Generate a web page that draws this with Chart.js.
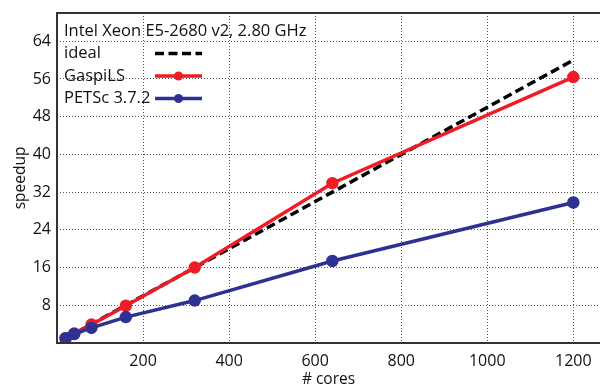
<!DOCTYPE html>
<html><head><meta charset="utf-8">
<script src="https://cdn.jsdelivr.net/npm/chart.js@4/dist/chart.umd.min.js"></script>
<style>html,body{margin:0;padding:0;background:#fff}#c{display:block}</style>
</head><body>
<canvas id="c" width="600" height="387"></canvas>
<script>
const cores = [20, 40, 80, 160, 320, 640, 1200];
const ideal = [1, 2, 4, 8, 16, 32, 60];
const gaspiLS = [1, 2, 3.9, 7.9, 16, 33.9, 56.4];
const petsc = [1, 1.9, 3.2, 5.5, 9.0, 17.4, 29.8];
const xTicks = [200, 400, 600, 800, 1000, 1200];
const yTicks = [8, 16, 24, 32, 40, 48, 56, 64];
const legendTitle = 'Intel Xeon E5-2680 v2, 2.80 GHz';
const FONT = 'Open Sans';

const pts = (ys) => cores.map((x, i) => ({x, y: ys[i]}));

const frame = {
  id: 'frame',
  afterDatasetsDraw(chart) {
    const {ctx, chartArea: a} = chart;
    ctx.save();
    ctx.strokeStyle = '#333';
    ctx.lineWidth = 2;
    ctx.beginPath();
    ctx.moveTo(a.right + 2, a.top); ctx.lineTo(a.left, a.top);
    ctx.lineTo(a.left, a.bottom); ctx.lineTo(a.right + 2, a.bottom);
    ctx.stroke();
    // legend
    const x0 = a.left + 7, lx0 = a.left + 98, lx1 = a.left + 145;
    ctx.fillStyle = '#111';
    ctx.font = '16.5px "' + FONT + '"';
    ctx.textBaseline = 'middle';
    ctx.textAlign = 'left';
    ctx.fillText(legendTitle, x0, a.top + 18);
    const rows = chart.data.datasets;
    rows.forEach((ds, i) => {
      const y = a.top + 40.5 + i * 22.5;
      ctx.fillStyle = '#111';
      ctx.fillText(ds.label, x0, y);
      ctx.strokeStyle = ds.borderColor;
      ctx.lineWidth = ds.borderWidth;
      ctx.setLineDash(ds.borderDash || []);
      ctx.beginPath(); ctx.moveTo(lx0, y); ctx.lineTo(lx1, y); ctx.stroke();
      ctx.setLineDash([]);
      if (ds.pointRadius > 0) {
        ctx.fillStyle = ds.borderColor;
        ctx.beginPath(); ctx.arc((lx0 + lx1) / 2, y, ds.pointRadius, 0, Math.PI * 2); ctx.fill();
      }
    });
    ctx.restore();
  }
};

const gridOpts = {color: '#555', lineWidth: 1, drawTicks: false, borderDash: [1, 2], tickBorderDash: [1, 2]};

new Chart(document.getElementById('c'), {
  type: 'line',
  data: {
    datasets: [
      {label: 'ideal', data: pts(ideal), borderColor: '#000', borderWidth: 3.5, borderDash: [9, 4.5], pointRadius: 0, order: 3},
      {label: 'GaspiLS', data: pts(gaspiLS), borderColor: '#ee1c25', backgroundColor: '#ee1c25', borderWidth: 3.5, pointRadius: 4.5, order: 2},
      {label: 'PETSc 3.7.2', data: pts(petsc), borderColor: '#2e3192', backgroundColor: '#2e3192', borderWidth: 3.5, pointRadius: 4.5, order: 1}
    ]
  },
  options: {
    responsive: false,
    animation: false,
    layout: {autoPadding: false, padding: {top: 13, right: 0, left: 0, bottom: 0}},
    plugins: {legend: {display: false}, tooltip: {enabled: false}},
    elements: {line: {tension: 0}, point: {borderWidth: 0}},
    scales: {
      x: {
        type: 'linear', min: 0, max: 1262,
        afterBuildTicks: (s) => { s.ticks = [0].concat(xTicks).map(v => ({value: v})); },
        afterFit: (s) => { s.height = 44; s.paddingLeft = 0; s.paddingRight = 0; },
        ticks: {color: '#111', font: {family: FONT, size: 16}, padding: 9,
          callback: (v) => v === 0 ? '' : String(v), maxRotation: 0, autoSkip: false},
        grid: gridOpts,
        border: {display: false, dash: [1, 2]},
        title: {display: true, text: '# cores', color: '#111', font: {family: FONT, size: 15.5, lineHeight: 0.9}, padding: {top: 0, bottom: 0}}
      },
      y: {
        type: 'linear', min: 0, max: 70,
        afterBuildTicks: (s) => { s.ticks = [0].concat(yTicks).map(v => ({value: v})); },
        afterFit: (s) => { s.width = 57; s.paddingTop = 0; s.paddingBottom = 0; },
        ticks: {color: '#111', font: {family: FONT, size: 16}, padding: 6,
          callback: (v) => v === 0 ? '' : String(v), autoSkip: false},
        grid: gridOpts,
        border: {display: false, dash: [1, 2]},
        title: {display: true, text: 'speedup', color: '#111', font: {family: FONT, size: 15.5}, padding: {top: 11, bottom: 0}}
      }
    }
  },
  plugins: [frame]
});
</script>
</body></html>
